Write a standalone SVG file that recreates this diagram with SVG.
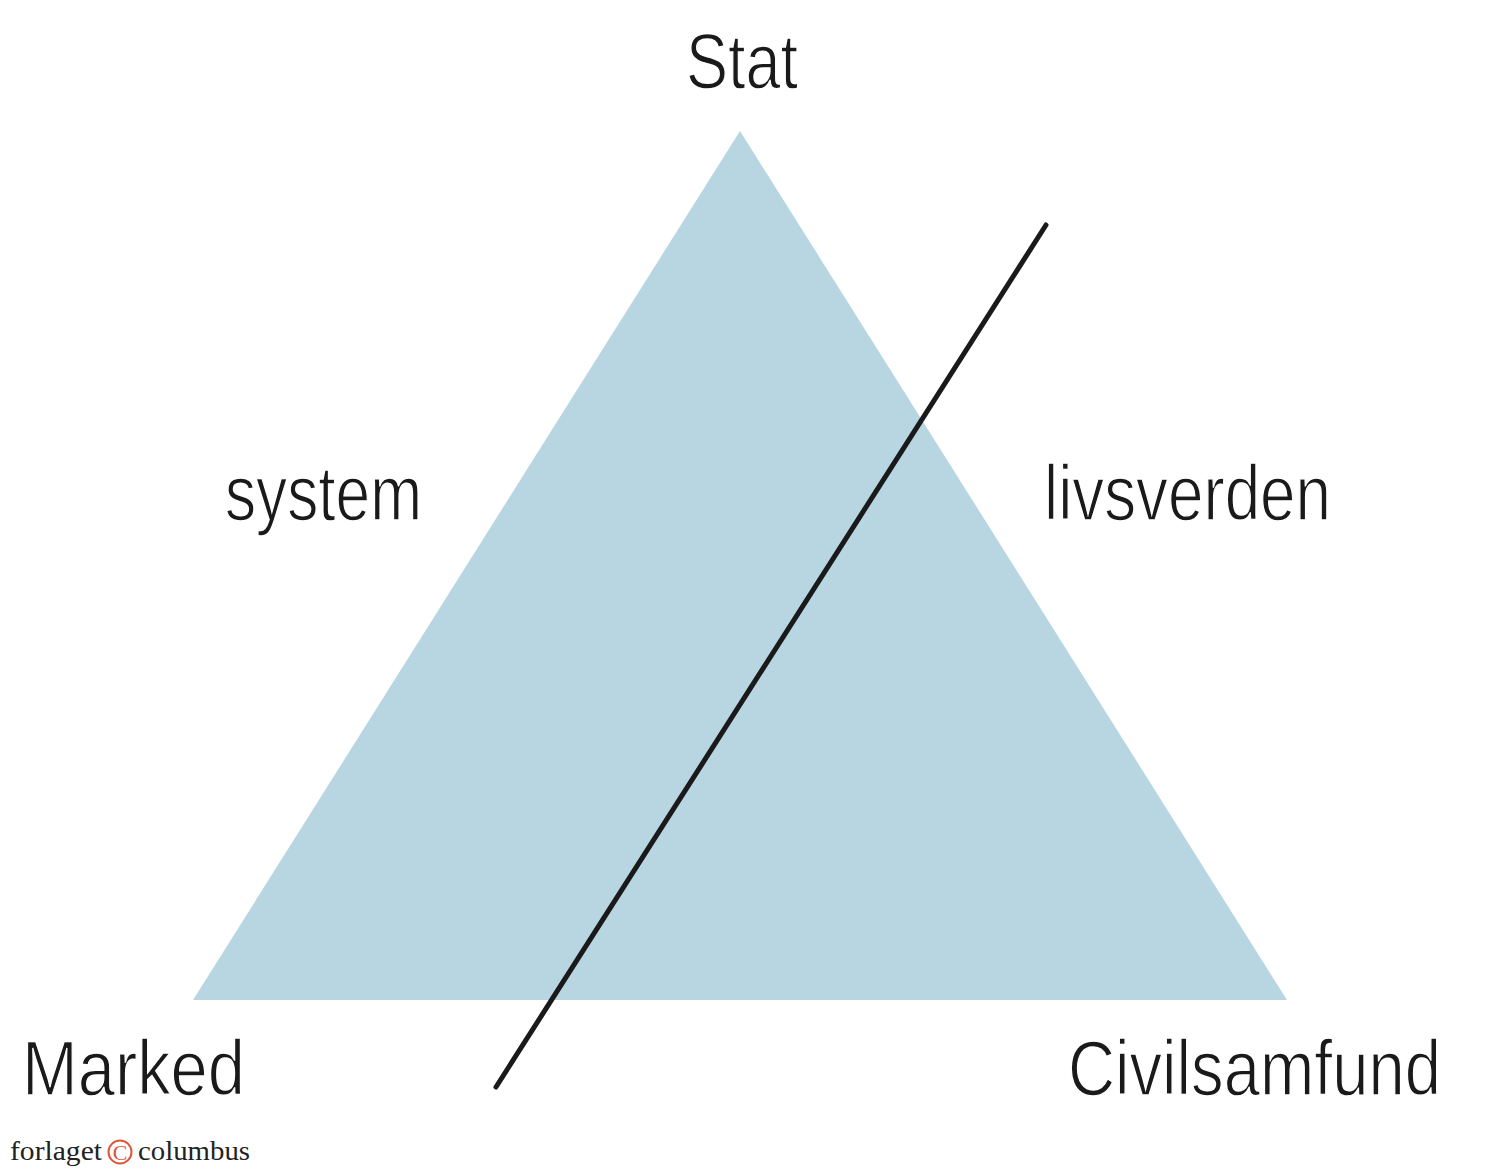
<svg xmlns="http://www.w3.org/2000/svg" width="1500" height="1170" viewBox="0 0 1500 1170">
<style>
.lbl{font-family:"Liberation Sans Narrow","Liberation Sans","DejaVu Sans Condensed",sans-serif;fill:#1a1a1a;font-size:78px;stroke:#ffffff;stroke-width:1.4px}
.on-blue{stroke:#b8d5e2}
.logo{font-family:"Liberation Serif","DejaVu Serif",serif;fill:#222;font-size:27px}
</style>
<rect width="1500" height="1170" fill="#ffffff"/>
<g id="triangle">
<polygon points="740,131 193,1000 1287,1000" fill="#b8d5e2"/>
</g>
<g id="connectors">
<line x1="1046" y1="225" x2="496" y2="1087" stroke="#1a1a1a" stroke-width="5" stroke-linecap="round"/>
</g>
<g id="node-stat"><text class="lbl" x="686" y="88" textLength="112" lengthAdjust="spacingAndGlyphs">Stat</text></g>
<g id="node-marked"><text class="lbl" x="22" y="1095" textLength="223" lengthAdjust="spacingAndGlyphs">Marked</text></g>
<g id="node-civilsamfund"><text class="lbl" x="1068" y="1095" textLength="373" lengthAdjust="spacingAndGlyphs">Civilsamfund</text></g>
<g id="node-system"><text class="lbl" x="225" y="520" textLength="197" lengthAdjust="spacingAndGlyphs">system</text></g>
<g id="node-livsverden"><text class="lbl" x="1044" y="520" textLength="287" lengthAdjust="spacingAndGlyphs">livsverden</text></g>
<g id="logo">
<text class="logo" x="10" y="1160" textLength="92" lengthAdjust="spacingAndGlyphs">forlaget</text>
<circle cx="120" cy="1152" r="11.5" fill="none" stroke="#e0553a" stroke-width="2"/>
<text x="120" y="1160" text-anchor="middle" font-family="Liberation Serif,serif" font-size="22" fill="#e0553a">C</text>
<text class="logo" x="138" y="1160" textLength="112" lengthAdjust="spacingAndGlyphs">columbus</text>
</g>
</svg>
